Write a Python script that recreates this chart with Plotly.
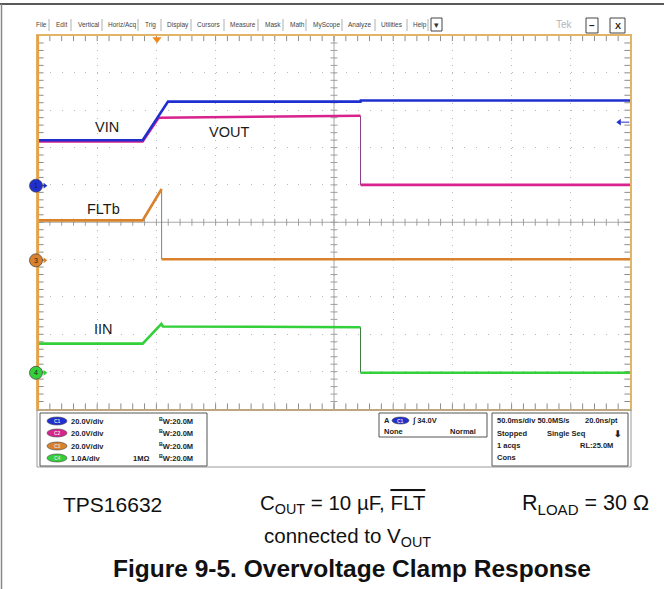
import plotly.graph_objects as go

W, H = 664, 589

# ---- captured waveforms (time in ms, 50 ms/div, 10 div on screen) ----
t_vin = [0, 88.4, 109.8, 272.4, 272.6, 500]
vin = [24.3, 24.3, 45.0, 45.0, 45.6, 45.6]

t_vout = [0, 88.4, 101.9, 272.4, 272.4, 500]
vout = [23.7, 23.7, 36.4, 37.4, 0.4, 0.4]

t_flt = [0, 88.4, 104.4, 104.4, 500]
flt = [21.4, 21.4, 38.2, 0.6, 0.6]

t_iin = [0, 88.4, 104.2, 105.5, 272.4, 272.4, 500]
iin = [0.78, 0.78, 1.31, 1.24, 1.22, 0.0, 0.0]

# channel setup: scale per div and ground position (div from screen centre)
ch_scale = {1: 20.0, 2: 20.0, 3: 20.0, 4: 1.0}
ch_ground = {1: 0.98, 2: 0.98, 3: -1.02, 4: -4.03}
ch_color = {1: "#1f2fd0", 2: "#d8228e", 3: "#d9822b", 4: "#34d03a"}
ch_edge = {1: "#1f2fd0", 2: "#8a3c8c", 3: "#9a7a5a", 4: "#3d7a40"}
trig_pos = 100.5     # ms
trig_level = 34.0    # V on C1

labels = ["VIN", "VOUT", "FLTb", "IIN"]
menu = ["File", "Edit", "Vertical", "Horiz/Acq", "Trig", "Display", "Cursors",
        "Measure", "Mask", "Math", "MyScope", "Analyze", "Utilities", "Help"]
menu_x = [34, 54, 76, 106, 143, 165, 195, 228, 263, 288, 311, 346, 379, 411]
menu_sep = [49, 71, 102, 138, 161, 191, 224, 258, 283, 306, 342, 375, 407, 428]

ch_rows = [("C1", "20.0V/div", ""), ("C2", "20.0V/div", ""),
           ("C3", "20.0V/div", ""), ("C4", "1.0A/div", "1MΩ")]

FONT = "Liberation Sans, Arial, sans-serif"
FRAME = "#e2b466"
TICK = "#8c8c8c"
DIV_PX = (409 - 35.5) / 10


def px(x):
    return x / W


def py(y):
    return 1 - y / H


def split(t, v):
    mx, my, ex, ey = [], [], [], []
    for i in range(len(t)):
        if i > 0 and t[i] == t[i - 1]:
            mx.append(None)
            my.append(None)
            ex += [t[i - 1], t[i], None]
            ey += [v[i - 1], v[i], None]
        mx.append(t[i])
        my.append(v[i])
    return mx, my, ex, ey


def ch_range(ch):
    return [(-5 - ch_ground[ch]) * ch_scale[ch], (5 - ch_ground[ch]) * ch_scale[ch]]


def marks(x, y, symbol, size, color=TICK, **kw):
    return go.Scatter(x=x, y=y, mode="markers", hoverinfo="skip", showlegend=False,
                      marker=dict(symbol=symbol, size=size, line=dict(width=1, color=color)), **kw)


fig = go.Figure()

# graticule: centre lines, cross ticks and edge ticks
minor_x = [10 * k for k in range(1, 50)]
minor_y = [round(-5 + 0.2 * k, 2) for k in range(1, 50)]
fig.add_trace(go.Scatter(x=[0, 500], y=[0, 0], mode="lines",
                         line=dict(color="#a8a8a8", width=1), hoverinfo="skip", showlegend=False))
fig.add_trace(go.Scatter(x=[250, 250], y=[-5, 5], mode="lines",
                         line=dict(color="#a8a8a8", width=1), hoverinfo="skip", showlegend=False))
fig.add_trace(marks(minor_x, [0] * 49, "line-ns", 5, "#a0a0a0"))
fig.add_trace(marks([250] * 49, minor_y, "line-ew", 5, "#a0a0a0"))
fig.add_trace(marks(minor_x * 2, [5] * 49 + [-5] * 49, "line-ns", 8))
fig.add_trace(marks([0] * 49 + [500] * 49, minor_y * 2, "line-ew", 8))

series = [(2, "y2", t_vout, vout), (1, "y2", t_vin, vin),
          (3, "y3", t_flt, flt), (4, "y4", t_iin, iin)]
for ch, ax, t, v in series:
    mx, my, ex, ey = split(t, v)
    if ex:
        fig.add_trace(go.Scatter(x=ex, y=ey, yaxis=ax, mode="lines",
                                 line=dict(color=ch_edge[ch], width=1),
                                 hoverinfo="skip", showlegend=False))
    fig.add_trace(go.Scatter(x=mx, y=my, yaxis=ax, mode="lines",
                             line=dict(color=ch_color[ch], width=2.6),
                             hoverinfo="skip", showlegend=False))

# channel ground arrows
for ch, ax in [(1, "y2"), (3, "y3"), (4, "y4")]:
    fig.add_trace(go.Scatter(x=[2.0, 5.5], y=[0, 0], yaxis=ax, mode="lines",
                             line=dict(color=ch_color[ch], width=1.2), cliponaxis=False,
                             hoverinfo="skip", showlegend=False))
    fig.add_trace(go.Scatter(x=[5.8], y=[0], yaxis=ax, mode="markers", cliponaxis=False,
                             marker=dict(symbol="triangle-right", size=5, color=ch_color[ch]),
                             hoverinfo="skip", showlegend=False))

# trigger level arrow (right) and trigger position (top)
fig.add_trace(go.Scatter(x=[492, 499.5], y=[trig_level] * 2, yaxis="y2", mode="lines",
                         line=dict(color=ch_color[1], width=1), cliponaxis=False,
                         hoverinfo="skip", showlegend=False))
fig.add_trace(go.Scatter(x=[491], y=[trig_level], yaxis="y2", mode="markers", cliponaxis=False,
                         marker=dict(symbol="triangle-left", size=6, color=ch_color[1]),
                         hoverinfo="skip", showlegend=False))
fig.add_trace(go.Scatter(x=[trig_pos], y=[4.9], mode="markers", cliponaxis=False,
                         marker=dict(symbol="triangle-down", size=8, color="#f0891c"),
                         hoverinfo="skip", showlegend=False))

dom_x = [px(38), px(630)]
dom_y = [py(409), py(35.5)]
axis_common = dict(showticklabels=False, zeroline=False, fixedrange=True,
                   showline=True, linecolor=FRAME, linewidth=2, mirror=True,
                   ticks="", gridcolor="#b8b8b8", gridwidth=1)

fig.update_layout(
    width=W, height=H, margin=dict(l=0, r=0, t=0, b=0),
    paper_bgcolor="white", plot_bgcolor="white", showlegend=False,
    font=dict(family=FONT),
    xaxis=dict(domain=dom_x, range=[0, 500], dtick=50, tick0=0,
               griddash="1px,6.47px", **axis_common),
    yaxis=dict(domain=dom_y, range=[-5, 5], dtick=1, tick0=0,
               griddash="1px,10.84px", **axis_common),
    yaxis2=dict(overlaying="y", range=ch_range(1), visible=False, fixedrange=True),
    yaxis3=dict(overlaying="y", range=ch_range(3), visible=False, fixedrange=True),
    yaxis4=dict(overlaying="y", range=ch_range(4), visible=False, fixedrange=True),
)

shapes = [
    # bright left edge of the frame
    dict(type="line", xref="paper", yref="paper", x0=px(38), x1=px(38), y0=py(409), y1=py(35),
         line=dict(color="#eba048", width=2.2)),
    # page borders
    dict(type="line", xref="paper", yref="paper", x0=0, x1=1, y0=py(4), y1=py(4),
         line=dict(color="#222", width=1.5)),
    dict(type="line", xref="paper", yref="paper", x0=px(1.5), x1=px(1.5), y0=0, y1=py(4),
         line=dict(color="#888", width=1.5)),
    # readout panels
    dict(type="rect", xref="paper", yref="paper", x0=px(37), x1=px(631), y0=py(467), y1=py(410),
         line=dict(color="#9a9a9a", width=1)),
    dict(type="rect", xref="paper", yref="paper", x0=px(40), x1=px(207), y0=py(466), y1=py(413),
         line=dict(color="#555", width=1)),
    dict(type="rect", xref="paper", yref="paper", x0=px(379), x1=px(487), y0=py(437), y1=py(413),
         line=dict(color="#555", width=1)),
    dict(type="rect", xref="paper", yref="paper", x0=px(492), x1=px(628), y0=py(466), y1=py(413),
         line=dict(color="#555", width=1)),
    # menu widgets
    dict(type="rect", xref="paper", yref="paper", x0=px(431), x1=px(442), y0=py(31), y1=py(18),
         line=dict(color="#444", width=1)),
    dict(type="rect", xref="paper", yref="paper", x0=px(586), x1=px(598), y0=py(33), y1=py(18),
         line=dict(color="#444", width=1)),
    dict(type="rect", xref="paper", yref="paper", x0=px(610), x1=px(625), y0=py(33), y1=py(18),
         line=dict(color="#444", width=1)),
]
for sx in menu_sep:
    shapes.append(dict(type="line", xref="paper", yref="paper", x0=px(sx), x1=px(sx),
                       y0=py(31), y1=py(19), line=dict(color="#b0b0b0", width=1)))

annotations = []


def ann(x, y, text, size=8, color="#222", xanchor="left", bold=False, yref="paper"):
    annotations.append(dict(x=px(x), y=py(y) if yref == "paper" else y, xref="paper", yref=yref,
                            text=f"<b>{text}</b>" if bold else text, showarrow=False,
                            xanchor=xanchor, yanchor="middle",
                            font=dict(size=size, color=color, family=FONT)))


# channel ground badges (circle with channel number at the ground level)
r_div = 6.5 / DIV_PX
for ch in [1, 3, 4]:
    g = ch_ground[ch]
    shapes.append(dict(type="circle", xref="paper", yref="y", x0=px(29.5), x1=px(42.5),
                       y0=g - r_div, y1=g + r_div, fillcolor=ch_color[ch],
                       line=dict(color="#4a4a4a", width=0.8)))
    ann(36, g, str(ch), size=7, color="#222", xanchor="center", yref="y")

for name, mx in zip(menu, menu_x):
    ann(mx, 25, name, size=6.5, color="#444")
ann(436.5, 24.5, "▾", size=9, color="#333", xanchor="center")
ann(564.5, 25, "Tek", size=10, color="#b5b5b5", xanchor="center")
ann(592, 25.5, "–", size=10, color="#222", xanchor="center", bold=True)
ann(617.5, 25.5, "X", size=9, color="#222", xanchor="center", bold=True)

# channel readouts
row_y = [421, 433, 446, 458]
for (name, scale, imp), ry, ch in zip(ch_rows, row_y, [1, 2, 3, 4]):
    shapes.append(dict(type="circle", xref="paper", yref="paper", x0=px(47), x1=px(67),
                       y0=py(ry + 4), y1=py(ry - 4), fillcolor=ch_color[ch],
                       line=dict(color="#444", width=0.6)))
    ann(57, ry, name, size=5, color="#dddddd", xanchor="center", bold=True)
    ann(69, ry, scale, size=7.5, bold=True)
    ann(157, ry, "<sup>B</sup>W:20.0M", size=7.5, bold=True)
    if imp:
        ann(151, ry, imp, size=7.5, bold=True, xanchor="right")

# trigger readout
shapes.append(dict(type="circle", xref="paper", yref="paper", x0=px(392), x1=px(409),
                   y0=py(424), y1=py(417), fillcolor=ch_color[1], line=dict(color="#444", width=0.6)))
ann(382, 420.5, "A", size=7.5, bold=True)
ann(400.5, 420.5, "C1", size=5, color="#dddddd", xanchor="center", bold=True)
ann(410, 420.5, "∫ 34.0V", size=7.5, bold=True)
ann(382, 431.5, "None", size=7.5, bold=True)
ann(478, 431.5, "Normal", size=7.5, bold=True, xanchor="right")

# acquisition readout
ann(495, 420.5, "50.0ms/div 50.0MS/s", size=7.5, bold=True)
ann(620, 420.5, "20.0ns/pt", size=7.5, bold=True, xanchor="right")
ann(495, 433, "Stopped", size=7.5, bold=True)
ann(545, 433, "Single Seq", size=7.5, bold=True)
ann(618, 434, "⬇", size=9, bold=True, xanchor="center")
ann(495, 445.5, "1 acqs", size=7.5, bold=True)
ann(615, 445.5, "RL:25.0M", size=7.5, bold=True, xanchor="right")
ann(495, 457.5, "Cons", size=7.5, bold=True)

# trace labels
for lab, (lx, ly) in zip(labels, [(107, 127), (229, 132), (103, 209), (103, 329)]):
    ann(lx, ly, lab, size=14.5, color="#1a1a1a", xanchor="center")

# caption
ann(61, 504, "TPS16632", size=21, color="#111")
ann(258, 504, 'C<sub>OUT</sub> = 10 µF, <span style="text-decoration:overline">FLT</span>',
    size=20.5, color="#111")
ann(262, 537, "connected to V<sub>OUT</sub>", size=20.5, color="#111")
ann(520, 504, "R<sub>LOAD</sub> = 30 Ω", size=21.5, color="#111")
ann(352, 568, "Figure 9-5. Overvoltage Clamp Response", size=24.5, color="#111",
    xanchor="center", bold=True)

fig.update_layout(shapes=shapes, annotations=annotations)
fig.write_html("out.html", config={"displayModeBar": False},
               post_script="document.body.style.margin='0';")
